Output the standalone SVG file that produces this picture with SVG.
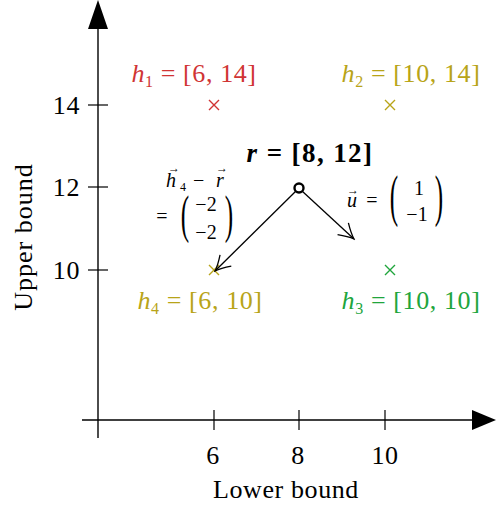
<svg xmlns="http://www.w3.org/2000/svg" width="496" height="510" viewBox="0 0 496 510">
<style>
text{font-family:"Liberation Serif","DejaVu Serif",serif;font-size:26px;fill:#000;letter-spacing:0.6px}
.ax{stroke:#000;stroke-width:1.4;fill:none}
.tk{stroke:#000;stroke-width:1.2}
.it{font-style:italic}
.sub{font-size:16px}
.small{font-size:20px;letter-spacing:0}
.vs{font-size:12px;letter-spacing:0}
.par{font-size:28px;letter-spacing:0;font-weight:normal}
.red{fill:#d03434}
.olive{fill:#b8a418}
.green{fill:#20a53c}
.xr{stroke:#d03434;stroke-width:1.4}
.xo{stroke:#b8a418;stroke-width:1.4}
.xg{stroke:#20a53c;stroke-width:1.4}
.vec{stroke:#000;stroke-width:1.3;fill:none}
</style>
<defs>
<marker id="hd" viewBox="-16 -9 18 18" refX="0" refY="0" markerWidth="18" markerHeight="18" markerUnits="userSpaceOnUse" orient="auto">
<path d="M-15,-8 Q-6,-2 0,0 Q-6,2 -15,8" fill="none" stroke="#000" stroke-width="1.3"/>
</marker>
</defs>
<g id="axes">
<line class="ax" x1="98" y1="438" x2="98" y2="26"/>
<polygon points="98,0 108,29 88,29" fill="#000"/>
<line class="ax" x1="82" y1="420" x2="474" y2="420"/>
<polygon points="496,420 472,410 472,430" fill="#000"/>
<line class="tk" x1="88" y1="105" x2="108" y2="105"/>
<line class="tk" x1="88" y1="187" x2="108" y2="187"/>
<line class="tk" x1="88" y1="270" x2="108" y2="270"/>
<line class="tk" x1="214" y1="410" x2="214" y2="430"/>
<line class="tk" x1="299" y1="410" x2="299" y2="430"/>
<line class="tk" x1="385" y1="410" x2="385" y2="430"/>
<text x="80" y="114" text-anchor="end">14</text>
<text x="80" y="196" text-anchor="end">12</text>
<text x="80" y="279" text-anchor="end">10</text>
<text x="213" y="464" text-anchor="middle">6</text>
<text x="298" y="464" text-anchor="middle">8</text>
<text x="385" y="464" text-anchor="middle">10</text>
<text x="286" y="498" text-anchor="middle">Lower bound</text>
<text transform="translate(32,237) rotate(-90)" text-anchor="middle" style="letter-spacing:1px">Upper bound</text>
</g>
<g id="h1">
<path class="xr" d="M209,100 L219,110 M219,100 L209,110"/>
<text class="red" x="194" y="82" text-anchor="middle"><tspan class="it">h</tspan><tspan class="sub" dy="5">1</tspan><tspan dy="-5"> = [6, 14]</tspan></text>
</g>
<g id="h2">
<path class="xo" d="M385,100 L395,110 M395,100 L385,110"/>
<text class="olive" x="411" y="82" text-anchor="middle"><tspan class="it">h</tspan><tspan class="sub" dy="5">2</tspan><tspan dy="-5"> = [10, 14]</tspan></text>
</g>
<g id="h3">
<path class="xg" d="M385,265 L395,275 M395,265 L385,275"/>
<text class="green" x="411" y="309" text-anchor="middle"><tspan class="it">h</tspan><tspan class="sub" dy="5">3</tspan><tspan dy="-5"> = [10, 10]</tspan></text>
</g>
<g id="h4">
<path class="xo" d="M209,265 L219,275 M219,265 L209,275"/>
<text class="olive" x="200" y="309" text-anchor="middle"><tspan class="it">h</tspan><tspan class="sub" dy="5">4</tspan><tspan dy="-5"> = [6, 10]</tspan></text>
</g>
<g id="r">
<circle cx="299" cy="188" r="4.5" fill="none" stroke="#000" stroke-width="2.4"/>
<text x="310" y="162" text-anchor="middle" font-weight="bold" style="font-size:27px;letter-spacing:1.4px"><tspan class="it">r</tspan> = [8, 12]</text>
</g>
<g id="connectors">
<line class="vec" x1="296" y1="191" x2="215" y2="271" marker-end="url(#hd)"/>
<line class="vec" x1="302" y1="191" x2="354" y2="239" marker-end="url(#hd)"/>
</g>
<g id="label-h4r">
<text class="small it" x="166" y="187">h</text>
<text class="vs" x="168" y="172">→</text>
<text class="vs" x="180" y="191">4</text>
<text class="small" x="193" y="187">−</text>
<text class="small it" x="216" y="187">r</text>
<text class="vs" x="216" y="172">→</text>
<text class="small" x="162" y="223" text-anchor="middle">=</text>
<text class="par" transform="translate(185,232) scale(0.9,1.85)" text-anchor="middle">(</text>
<text class="small" x="206" y="211" text-anchor="middle">−2</text>
<text class="small" x="206" y="239" text-anchor="middle">−2</text>
<text class="par" transform="translate(229,232) scale(0.9,1.85)" text-anchor="middle">)</text>
</g>
<g id="label-u">
<text class="small it" x="347" y="207">u</text>
<text class="vs" x="347" y="194">→</text>
<text class="small" x="372" y="207" text-anchor="middle">=</text>
<text class="par" transform="translate(394,215) scale(0.9,2.05)" text-anchor="middle">(</text>
<text class="small" x="419" y="195" text-anchor="middle">1</text>
<text class="small" x="417" y="221" text-anchor="middle">−1</text>
<text class="par" transform="translate(439,215) scale(0.9,2.05)" text-anchor="middle">)</text>
</g>
</svg>
